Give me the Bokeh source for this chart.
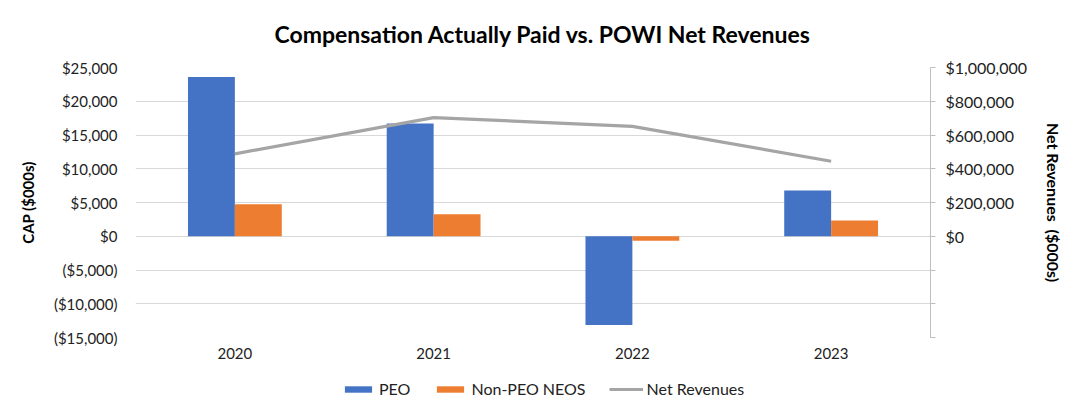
from bokeh.plotting import figure
from bokeh.models import (ColumnDataSource, FactorRange, Range1d, LinearAxis,
                          FixedTicker, Legend, LegendItem)
from bokeh.layouts import column
from bokeh.transform import dodge
from bokeh.embed import file_html
from bokeh.resources import INLINE

years = ["2020", "2021", "2022", "2023"]
peo = [23600, 16700, -13150, 6780]
non_peo = [4750, 3270, -680, 2330]
net_revenues = [488318, 703330, 651138, 444539]

left_ticks = [-15000, -10000, -5000, 0, 5000, 10000, 15000, 20000, 25000]
left_tick_labels = ["($15,000)", "($10,000)", "($5,000)", "$0", "$5,000",
                    "$10,000", "$15,000", "$20,000", "$25,000"]
right_ticks = [-600000, -400000, -200000, 0, 200000, 400000, 600000, 800000, 1000000]
right_tick_labels = ["", "", "", "$0", "$200,000", "$400,000", "$600,000",
                     "$800,000", "$1,000,000"]

FONT = "Lato"
TXT = "#222222"
BLUE, ORANGE, GREY = "#4472C4", "#ED7D31", "#A5A5A5"

src = ColumnDataSource(dict(year=years, peo=peo, non_peo=non_peo, rev=net_revenues))

p = figure(x_range=FactorRange(factors=years, range_padding=0),
           y_range=Range1d(-15000, 25000),
           frame_width=795, frame_height=270,
           output_backend="svg", toolbar_location=None,
           min_border_left=135, min_border_right=150, min_border_top=67,
           min_border_bottom=30)
p.extra_y_ranges = {"rev": Range1d(-600000, 1000000)}
p.outline_line_color = None
p.background_fill_color = "white"
p.border_fill_color = "white"

p.title.text = "Compensation Actually Paid vs. POWI Net Revenues"
p.title.align = "left"
p.title.offset = 139
p.title.vertical_align = "top"
p.title.text_font = FONT
p.title.text_font_style = "bold"
p.title.text_font_size = "23px"
p.title.text_color = "#000000"
p.title.standoff = 36

p.vbar(x=dodge("year", -0.118, range=p.x_range), top="peo", bottom=0,
       width=0.236, source=src, fill_color=BLUE, line_color=None)
p.vbar(x=dodge("year", 0.118, range=p.x_range), top="non_peo", bottom=0,
       width=0.236, source=src, fill_color=ORANGE, line_color=None)
p.line(x="year", y="rev", source=src, y_range_name="rev",
       line_color=GREY, line_width=3.2)

p.xgrid.grid_line_color = None
p.ygrid.grid_line_color = "#d9d9d9"
p.ygrid.ticker = FixedTicker(ticks=left_ticks)

ya = p.yaxis[0]
ya.ticker = FixedTicker(ticks=left_ticks)
ya.major_label_overrides = {t: l for t, l in zip(left_ticks, left_tick_labels)}
ya.axis_line_color = None
ya.major_tick_line_color = None
ya.minor_tick_line_color = None
ya.major_label_standoff = 12
ya.major_label_text_font = FONT
ya.major_label_text_font_size = "15px"
ya.major_label_text_color = TXT
ya.axis_label = "CAP ($000s)"
ya.axis_label_text_font = FONT
ya.axis_label_text_font_style = "bold"
ya.axis_label_text_font_size = "15px"
ya.axis_label_text_color = "#000000"
ya.axis_label_standoff = 14

ra = LinearAxis(y_range_name="rev", ticker=FixedTicker(ticks=right_ticks))
ra.major_label_overrides = {t: l for t, l in zip(right_ticks, right_tick_labels)}
ra.axis_line_color = "#bfbfbf"
ra.major_tick_line_color = "#bfbfbf"
ra.major_tick_in = 0
ra.major_tick_out = 5
ra.minor_tick_line_color = None
ra.major_label_standoff = 10
ra.major_label_text_font = FONT
ra.major_label_text_font_size = "16px"
ra.major_label_text_color = TXT
ra.axis_label = "Net Revenues \u00a0($000s)"
ra.axis_label_text_font = FONT
ra.axis_label_text_font_style = "bold"
ra.axis_label_text_font_size = "16px"
ra.axis_label_text_color = "#000000"
ra.axis_label_standoff = 14
p.add_layout(ra, "right")

xa = p.xaxis[0]
xa.axis_line_color = None
xa.major_tick_line_color = None
xa.minor_tick_line_color = None
xa.major_tick_out = 0
xa.minor_tick_out = 0
xa.axis_label_standoff = 0
xa.major_label_standoff = 10
xa.major_label_text_font = FONT
xa.major_label_text_font_size = "15px"
xa.major_label_text_color = TXT

# legend strip below the chart (proxy glyphs sit outside the visible range)
pl = figure(x_range=Range1d(0, 1), y_range=Range1d(0, 1),
            frame_width=1080, frame_height=51, output_backend="svg",
            toolbar_location=None, x_axis_type=None, y_axis_type=None,
            min_border=0)
pl.outline_line_color = None
pl.grid.grid_line_color = None
pl.background_fill_color = "white"
pl.border_fill_color = "white"
proxy = ColumnDataSource(dict(x=[-10, -9], y=[-10, -10]))
g_peo = pl.vbar(x="x", top="y", bottom=-11, width=0.1, source=proxy,
                fill_color=BLUE, line_color=None)
g_non = pl.vbar(x="x", top="y", bottom=-11, width=0.1, source=proxy,
                fill_color=ORANGE, line_color=None)
g_rev = pl.line(x="x", y="y", source=proxy, line_color=GREY, line_width=3.2)

legend = Legend(items=[LegendItem(label="PEO", renderers=[g_peo]),
                       LegendItem(label="Non-PEO NEOS", renderers=[g_non]),
                       LegendItem(label="Net Revenues", renderers=[g_rev])],
                orientation="horizontal", location=(341, 20))
legend.border_line_color = None
legend.background_fill_alpha = 0
legend.label_text_font = FONT
legend.label_text_font_size = "16px"
legend.label_text_color = TXT
legend.glyph_width = 34
legend.glyph_height = 8
legend.label_height = 15
legend.label_standoff = 4
legend.spacing = 23
legend.margin = 0
legend.padding = 4
pl.add_layout(legend, "center")

layout = column(p, pl, spacing=0)
open("out.html", "w").write(file_html(layout, INLINE))
